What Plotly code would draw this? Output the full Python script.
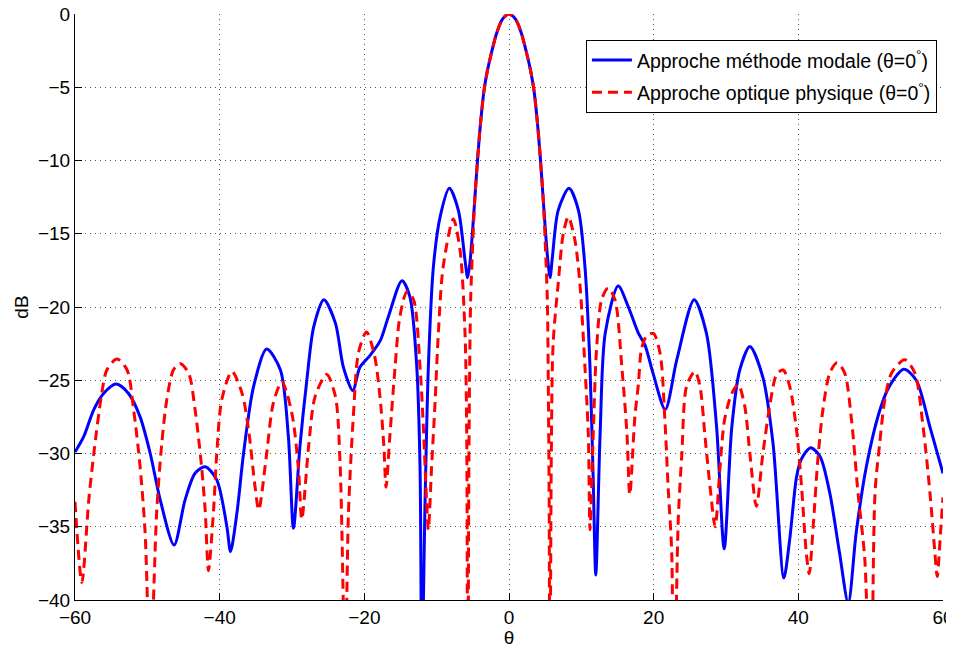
import plotly.graph_objects as go

# Approche méthode modale (blue, solid)
theta_modal = [
    -60, -58.8, -57.4, -56.05, -54.3, -52.6, -51.0, -49.6, -48.2, -46.3,
    -44.8, -43.4, -42.0, -40.4, -39.0, -38.5, -37.6, -36.7, -35.3, -33.5,
    -31.6, -30.5, -29.8, -28.9, -27.95, -27.0, -25.6, -24.0, -22.9, -21.6,
    -20.6, -19.2, -17.8, -16.7, -14.8, -13.7, -12.75, -12.3, -12.05, -11.6,
    -11.15, -10.45, -9.5, -8.25, -7.0, -6.08, -5.72, -5.4, -5.07, -4.75,
    -4.4, -4.0, -3.45, -3.0, -2.5, -1.7, -0.9, 0, 0.9, 1.7,
    2.5, 3.0, 3.45, 4.0, 4.4, 4.75, 5.07, 5.4, 5.67, 6.0,
    6.8, 8.3, 9.6, 10.5, 11.2, 11.65, 12.0, 12.6, 13.3, 15.1,
    16.5, 17.9, 18.8, 19.9, 21.6, 23.2, 25.6, 27.3, 28.7, 29.75,
    30.8, 31.9, 33.3, 35.1, 36.5, 38.0, 38.8, 39.75, 40.4, 41.7,
    43.0, 44.35, 45.7, 46.9, 48.0, 49.4, 51.3, 52.6, 54.6, 56.3,
    58.2, 60,
]
db_modal = [
    -29.9, -28.85, -27.0, -25.9, -25.26, -25.9, -27.5, -30.0, -33.2, -36.25,
    -33.2, -31.35, -30.9, -31.8, -35.0, -36.7, -34.0, -30.0, -25.4, -22.87,
    -24.3, -28.85, -35.1, -29.5, -25.0, -21.35, -19.5, -21.1, -24.1, -25.7,
    -24.1, -23.3, -22.3, -20.7, -18.2, -19.3, -24.1, -30.9, -45.0, -33.2,
    -24.1, -17.25, -13.8, -11.9, -13.4, -16.8, -18.0, -17.0, -15.0, -12.8,
    -10.3, -7.8, -5.2, -3.9, -2.8, -1.3, -0.35, 0, -0.35, -1.3,
    -2.8, -3.9, -5.2, -7.8, -10.3, -12.8, -15.0, -17.0, -18.0, -16.6,
    -13.4, -11.9, -13.4, -17.25, -24.1, -32.0, -38.3, -28.6, -21.8, -18.57,
    -20.0, -21.8, -22.6, -24.5, -27.0, -23.6, -19.5, -21.8, -28.2, -36.5,
    -28.2, -24.3, -22.7, -24.8, -29.3, -38.5, -35.9, -31.6, -30.4, -29.6,
    -30.2, -32.7, -36.8, -40.2, -35.4, -30.9, -27.0, -25.4, -24.25, -25.0,
    -28.2, -31.35,
]

# Approche optique physique (red, dashed)
theta_po = [
    -60, -59.05, -58.1, -57.4, -56.3, -55.6, -54.2, -52.8, -51.9, -51.0,
    -50.3, -49.6, -48.7, -48.0, -47.3, -46.4, -45.5, -44.3, -43.4, -42.5,
    -42.0, -41.55, -40.85, -40.4, -39.7, -38.3, -36.9, -36.0, -35.1, -34.6,
    -33.5, -32.6, -31.4, -30.0, -29.1, -28.65, -27.7, -26.8, -25.2, -24.0,
    -23.35, -22.65, -22.2, -21.5, -20.8, -19.7, -18.6, -17.8, -17.3, -17.0,
    -16.5, -15.75, -15.1, -14.1, -13.2, -12.3, -11.8, -11.4, -11.15, -10.7,
    -10.2, -9.77, -9.1, -7.7, -6.77, -6.08, -5.85, -5.7, -5.57, -5.48,
    -5.3, -5.0, -4.75, -4.4, -4.0, -3.45, -3.0, -2.5, -1.7, -0.9,
    0, 0.9, 1.7, 2.5, 3.0, 3.45, 4.0, 4.4, 4.75, 5.0,
    5.3, 5.45, 5.55, 5.65, 5.85, 6.1, 6.8, 7.5, 8.2, 9.1,
    9.8, 10.5, 10.96, 11.2, 11.65, 12.1, 12.8, 13.7, 14.65, 15.6,
    16.3, 16.7, 17.4, 17.9, 18.3, 19.0, 19.95, 20.9, 21.55, 22.0,
    22.5, 22.75, 23.4, 23.9, 24.55, 25.7, 26.4, 27.1, 27.8, 28.5,
    29.15, 29.8, 30.8, 31.7, 32.6, 33.3, 34.2, 35.1, 36.1, 37.0,
    37.9, 38.8, 39.75, 40.45, 41.1, 41.5, 42.05, 42.7, 43.4, 44.35,
    45.35, 46.4, 47.35, 48.25, 49.2, 50.0, 50.6, 51.25, 51.95, 52.9,
    54.7, 56.1, 57.25, 58.2, 58.85, 59.2, 59.65, 60,
]
db_po = [
    -33.3, -38.8, -33.2, -30.0, -25.9, -24.3, -23.55, -24.3, -27.0, -30.9,
    -35.45, -45.0, -33.9, -29.3, -26.3, -24.3, -23.85, -24.5, -27.0, -30.9,
    -33.9, -38.0, -33.9, -30.0, -26.3, -24.4, -25.9, -28.4, -32.3, -33.85,
    -30.0, -26.6, -25.1, -27.3, -31.1, -34.5, -29.5, -26.1, -24.6, -26.1,
    -30.7, -45.0, -34.1, -27.3, -23.1, -21.7, -23.3, -26.3, -29.5, -32.3,
    -29.0, -24.1, -20.7, -18.95, -19.5, -24.1, -28.6, -33.2, -35.2, -30.9,
    -26.3, -21.8, -17.25, -14.0, -16.1, -21.8, -28.6, -50.0, -33.2, -26.3,
    -19.5, -15.5, -12.8, -10.3, -7.8, -5.2, -3.9, -2.8, -1.3, -0.35,
    0, -0.35, -1.3, -2.8, -3.9, -5.2, -7.8, -10.3, -12.8, -15.5,
    -19.5, -26.3, -33.0, -50.0, -30.0, -22.5, -18.4, -15.0, -13.85, -15.4,
    -18.4, -24.1, -28.6, -35.2, -28.6, -22.9, -19.5, -18.7, -19.5, -24.1,
    -28.6, -32.8, -27.5, -25.2, -22.9, -22.0, -21.8, -23.2, -27.7, -32.3,
    -36.8, -50.0, -34.5, -30.0, -25.4, -24.4, -25.4, -28.85, -32.3, -35.0,
    -31.1, -27.7, -25.9, -25.3, -26.8, -30.0, -33.6, -30.0, -26.6, -24.6,
    -24.3, -25.4, -28.4, -32.3, -36.8, -38.2, -35.0, -30.4, -27.0, -24.5,
    -23.8, -24.5, -27.7, -32.7, -37.3, -50.0, -32.7, -29.3, -26.35, -24.5,
    -23.6, -24.5, -28.2, -32.7, -36.6, -38.4, -35.45, -33.0,
]

x_ticks = [-60, -40, -20, 0, 20, 40, 60]
y_ticks = [-40, -35, -30, -25, -20, -15, -10, -5, 0]

FONT = 'Liberation Sans, Arial'

fig = go.Figure()
fig.add_trace(go.Scatter(
    x=theta_modal, y=db_modal, mode='lines',
    name='Approche méthode modale (θ=0<sup>°</sup>)',
    legendgroup='a',
    line=dict(color='#0000ff', width=3, shape='spline', smoothing=0.8),
))
fig.add_trace(go.Scatter(
    x=theta_po, y=db_po, mode='lines',
    name='Approche optique physique (θ=0<sup>°</sup>)',
    legendgroup='b',
    line=dict(color='#ff0000', width=3, dash='10px,6px', shape='spline', smoothing=0.8),
))

axis_common = dict(
    showline=True, linecolor='black', linewidth=1,
    ticks='inside', ticklen=7, tickcolor='black',
    showgrid=True, gridcolor='#555555', griddash='1px,4px', gridwidth=1,
    zeroline=False, mirror=False, automargin=False,
    ticklabeloverflow='allow',
    tickfont=dict(family=FONT, size=19, color='black'),
)

fig.update_xaxes(
    range=[-60, 60], tickvals=x_ticks,
    title=dict(text='θ', font=dict(family=FONT, size=19, color='black'), standoff=0),
    **axis_common,
)
fig.update_yaxes(
    range=[-40, 0], tickvals=y_ticks,
    title=dict(text='dB', font=dict(family=FONT, size=19, color='black'), standoff=4),
    **axis_common,
)

# the page body keeps its default 8px margin, so the figure is 8px smaller
fig.update_layout(
    width=946, height=640,
    margin=dict(l=67, r=11, t=6, b=48),
    paper_bgcolor='white', plot_bgcolor='white',
    font=dict(family=FONT, color='black'),
    legend=dict(
        x=0.993, y=0.956, xanchor='right', yanchor='top',
        bgcolor='white', bordercolor='black', borderwidth=1,
        font=dict(size=19.5), itemwidth=40, tracegroupgap=4,
    ),
)

fig.write_html("out.html")
